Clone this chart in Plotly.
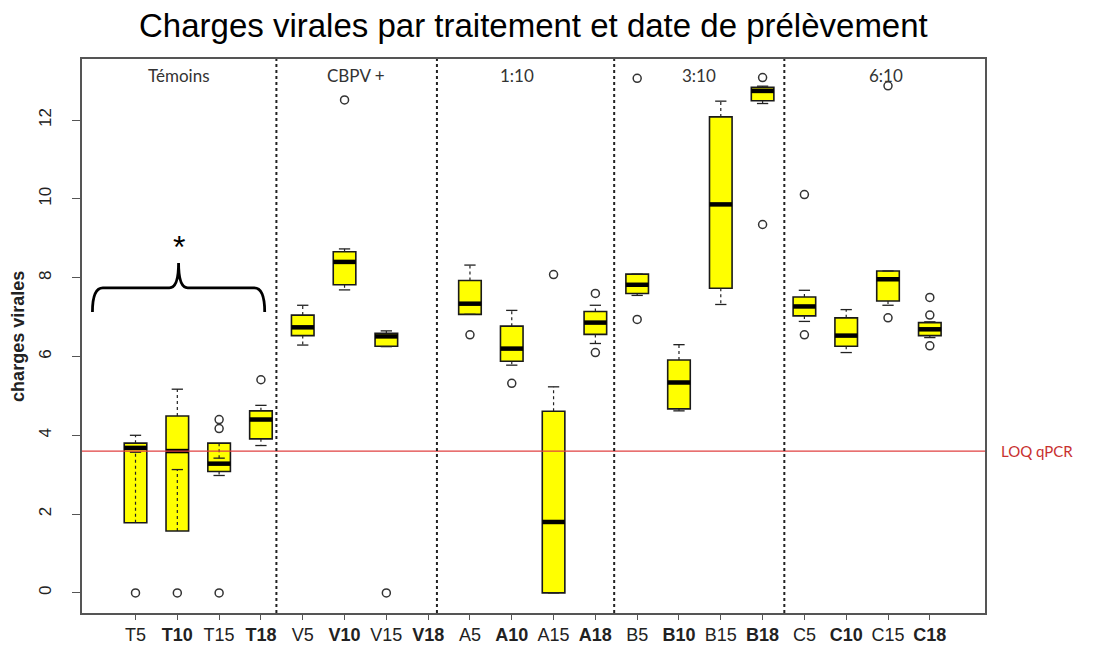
import plotly.graph_objects as go

# ---------------- data ----------------
categories = ["T5", "T10", "T15", "T18", "V5", "V10", "V15", "V18",
              "A5", "A10", "A15", "A18", "B5", "B10", "B15", "B18",
              "C5", "C10", "C15", "C18"]
q1 = [1.78, 1.57, 3.08, 3.91, 6.53, 7.82, 6.26, None,
      7.07, 5.88, 0.00, 6.56, 7.60, 4.67, 7.73, 12.49,
      7.03, 6.26, 7.41, 6.53]
median = [3.68, 3.60, 3.28, 4.40, 6.74, 8.40, 6.51, None,
          7.34, 6.20, 1.80, 6.86, 7.82, 5.34, 9.86, 12.74,
          7.27, 6.53, 7.96, 6.69]
q3 = [3.80, 4.49, 3.80, 4.62, 7.05, 8.66, 6.59, None,
      7.93, 6.77, 4.61, 7.14, 8.09, 5.91, 12.08, 12.83,
      7.51, 6.98, 8.17, 6.86]
lower_whisker = [3.57, 3.13, 2.98, 3.74, 6.29, 7.69, 6.25, None,
                 7.07, 5.78, 0.00, 6.33, 7.55, 4.62, 7.32, 12.42,
                 6.89, 6.10, 7.30, 6.48]
upper_whisker = [4.00, 5.17, 3.42, 4.76, 7.30, 8.73, 6.65, None,
                 8.32, 7.17, 5.23, 7.30, 8.09, 6.30, 12.48, 12.86,
                 7.68, 7.19, 8.17, 6.88]
outliers = [[0.0], [0.0], [4.40, 4.17, 0.0], [5.41],
            [], [12.51], [0.0], [],
            [6.55], [5.32], [8.08], [7.60, 6.10],
            [13.06, 6.94], [], [], [13.08, 9.35],
            [10.11, 6.55], [], [12.87, 6.98], [7.50, 7.05, 6.27]]
group_names = ["Témoins", "CBPV +", "1:10", "3:10", "6:10"]
loq = 3.6

# ---------------- layout constants ----------------
positions = list(range(1, len(categories) + 1))
BOX_W = 0.54
CAP_HALF = BOX_W / 4
separators = [4.37, 8.21, 12.45, 16.52]
group_label_x = [2.05, 6.27, 10.12, 14.47, 18.95]
XRANGE = [-0.28, 21.32]
YRANGE = [-0.51, 13.55]
FIG_W, FIG_H = 1090, 638

fig = go.Figure()

idx = [i for i in range(len(categories)) if q1[i] is not None]

# boxes
fig.add_trace(go.Box(
    x=[positions[i] for i in idx],
    q1=[q1[i] for i in idx],
    median=[median[i] for i in idx],
    q3=[q3[i] for i in idx],
    lowerfence=[q1[i] for i in idx],
    upperfence=[q3[i] for i in idx],
    width=BOX_W,
    whiskerwidth=0,
    fillcolor="#ffff00",
    line=dict(color="#1a1a1a", width=1.6),
    boxpoints=False,
    hoverinfo="skip",
    showlegend=False,
))

# dashed whiskers
wx, wy = [], []
for i in idx:
    p = positions[i]
    wx += [p, p, None, p, p, None]
    wy += [q3[i], upper_whisker[i], None, q1[i], lower_whisker[i], None]
fig.add_trace(go.Scatter(x=wx, y=wy, mode="lines",
                         line=dict(color="#222", width=1.2, dash="3px,3px"),
                         hoverinfo="skip", showlegend=False))

# whisker caps
cx, cy = [], []
for i in idx:
    p = positions[i]
    for v in (upper_whisker[i], lower_whisker[i]):
        cx += [p - CAP_HALF, p + CAP_HALF, None]
        cy += [v, v, None]
fig.add_trace(go.Scatter(x=cx, y=cy, mode="lines",
                         line=dict(color="#222", width=1.3),
                         hoverinfo="skip", showlegend=False))

# thick medians
mx, my = [], []
for i in idx:
    p = positions[i]
    mx += [p - BOX_W / 2, p + BOX_W / 2, None]
    my += [median[i], median[i], None]
fig.add_trace(go.Scatter(x=mx, y=my, mode="lines",
                         line=dict(color="black", width=4.5),
                         hoverinfo="skip", showlegend=False))

# outliers
ox, oy = [], []
for i, vals in enumerate(outliers):
    for v in vals:
        ox.append(positions[i])
        oy.append(v)
fig.add_trace(go.Scatter(x=ox, y=oy, mode="markers",
                         marker=dict(symbol="circle-open", size=8,
                                     color="#333", line=dict(width=1.5)),
                         hoverinfo="skip", showlegend=False))

# LOQ line
fig.add_shape(type="line", xref="paper", x0=0, x1=1, yref="y", y0=loq, y1=loq,
              line=dict(color="#e04040", width=1.3), layer="above")

# group separators
for s in separators:
    fig.add_shape(type="line", xref="x", x0=s, x1=s, yref="paper", y0=0, y1=1,
                  line=dict(color="#222", width=2, dash="dot"), layer="above")

# group labels
for name, gx in zip(group_names, group_label_x):
    fig.add_annotation(x=gx, y=0.971, xref="x", yref="paper", text=name,
                       xanchor="center", yanchor="middle",
                       showarrow=False, font=dict(family="Lato, Open Sans, sans-serif",
                                                  size=17, color="#333"))

# brace + star
bx0, bx1, bxc = -0.03, 4.09, 2.03
yl, yb, yt = 7.13, 7.74, 8.37
brace = (f"M {bx0},{yl} Q {bx0},{yb} {bx0 + 0.25},{yb} "
         f"L {bxc - 0.22},{yb} Q {bxc},{yb} {bxc},{yt} "
         f"Q {bxc},{yb} {bxc + 0.22},{yb} "
         f"L {bx1 - 0.25},{yb} Q {bx1},{yb} {bx1},{yl}")
fig.add_shape(type="path", path=brace, xref="x", yref="y",
              line=dict(color="black", width=2.8))
fig.add_annotation(x=bxc, y=8.78, xref="x", yref="y", text="*", showarrow=False,
                   font=dict(family="Liberation Sans, Arial, sans-serif", size=32, color="black"))

# LOQ label
fig.add_annotation(x=1.015, y=loq, xref="paper", yref="y", text="LOQ qPCR",
                   xanchor="left", yanchor="middle", showarrow=False,
                   font=dict(family="Lato, Open Sans, sans-serif", size=15, color="#c8302f"))

# y title
fig.add_annotation(x=-0.071, y=0.5, xref="paper", yref="paper", text="<b>charges virales</b>",
                   textangle=-90, xanchor="center", yanchor="middle", showarrow=False,
                   font=dict(family="Liberation Sans, Arial, sans-serif", size=18, color="#222"))

ticktext = [f"<b>{c}</b>" if (c.endswith("10") or c.endswith("18")) else c for c in categories]

fig.update_layout(
    width=FIG_W, height=FIG_H,
    margin=dict(l=74, r=113, t=51, b=33, autoexpand=False),
    paper_bgcolor="white", plot_bgcolor="white",
    title=dict(text="Charges virales par traitement et date de prélèvement",
               x=0.482, xanchor="center", y=0.973, yanchor="middle",
               font=dict(family="Liberation Sans, Arial, sans-serif", size=33, color="black")),
    xaxis=dict(range=XRANGE, tickmode="array", tickvals=positions, ticktext=ticktext,
               automargin=False,
               showgrid=False, zeroline=False, showline=True, mirror=True,
               linecolor="#555", linewidth=1.5, ticks="outside", ticklen=5,
               tickcolor="#555", tickfont=dict(family="Liberation Sans, Arial, sans-serif",
                                               size=18, color="#222")),
    yaxis=dict(range=YRANGE, tickmode="array", tickvals=[0, 2, 4, 6, 8, 10, 12],
               automargin=False,
               showgrid=False, zeroline=False, showline=True, mirror=True,
               linecolor="#555", linewidth=1.5, ticks="outside", ticklen=8,
               tickcolor="#555", tickangle=-90, ticklabelstandoff=14,
               tickfont=dict(family="Liberation Sans, Arial, sans-serif", size=17, color="#222")),
)

fig.write_html("out.html")
